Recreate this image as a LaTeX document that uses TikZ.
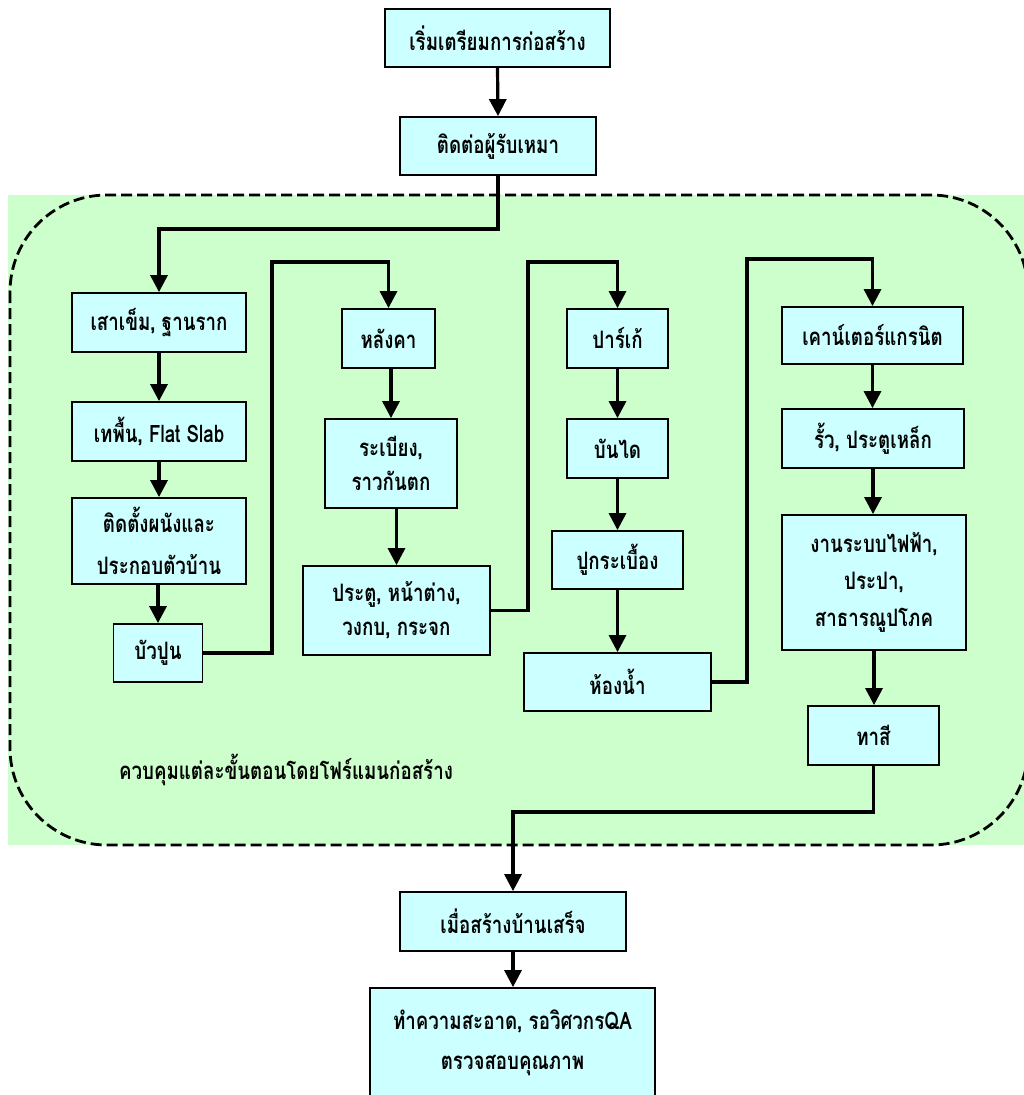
\documentclass[tikz,border=0pt]{standalone}
\usepackage{fontspec}
\newfontfamily\thaifont[Script=Thai, FakeStretch=0.78]{Loma}
\usetikzlibrary{arrows.meta,calc}
\definecolor{zone}{RGB}{204,255,204}
\definecolor{boxc}{RGB}{204,255,255}
\tikzset{
  txt/.style={font=\thaifont\bfseries\fontsize{24}{34}\selectfont},
  box/.style={draw=black, line width=1.8pt, fill=boxc, inner sep=0pt, align=center, txt},
  flow/.style={line width=3.2pt, -{Triangle[width=17pt,length=17pt]}},
}
\begin{document}
\begin{tikzpicture}[x=1pt,y=-1pt]
\useasboundingbox (0,0) rectangle (1024,1095);
\clip (0,0) rectangle (1024,1095);
% zone
\fill[zone] (8,195) rectangle (1024,845);
\draw[dash pattern=on 11pt off 5pt, line width=2.8pt, rounded corners=97pt] (10,195) rectangle (1028,845);
\node[txt] (note) at (286,770) {ควบคุมแต่ละขั้นตอนโดยโฟร์แมนก่อสร้าง};
% top
\node[box, minimum width=225pt, minimum height=58pt] (b1) at (497.5,38) {เริ่มเตรียมการก่อสร้าง};
\node[box, minimum width=196pt, minimum height=58pt] (b2) at (498,146) {ติดต่อผู้รับเหมา};
% column 1
\node[box, minimum width=174pt, minimum height=59pt] (a1) at (159,322.5) {เสาเข็ม, ฐานราก};
\node[box, minimum width=174pt, minimum height=59pt] (a2) at (159,431.5) {เทพื้น, Flat Slab};
\node[box, minimum width=174pt, minimum height=86pt, font=\thaifont\bfseries\fontsize{24}{42}\selectfont] (a3) at (159,541) {ติดตั้งผนังและ\\ประกอบตัวบ้าน};
\node[box, minimum width=89pt, minimum height=58pt] (a4) at (158,653) {บัวปูน};
% column 2
\node[box, minimum width=93pt, minimum height=59pt] (c1) at (388.5,338.5) {หลังคา};
\node[box, minimum width=132pt, minimum height=89pt] (c2) at (391,463.5) {ระเบียง,\\ราวกันตก};
\node[box, minimum width=187pt, minimum height=89pt] (c3) at (396.5,610.5) {ประตู, หน้าต่าง,\\วงกบ, กระจก};
% column 3
\node[box, minimum width=101pt, minimum height=59pt] (d1) at (617.5,338.5) {ปาร์เก้};
\node[box, minimum width=101pt, minimum height=59pt] (d2) at (617.5,448.5) {บันได};
\node[box, minimum width=131pt, minimum height=58pt] (d3) at (617.5,560) {ปูกระเบื้อง};
\node[box, minimum width=187pt, minimum height=58pt] (d4) at (617.5,682) {ห้องน้ำ};
% column 4
\node[box, minimum width=181pt, minimum height=57pt] (e1) at (872.5,335.5) {เคาน์เตอร์แกรนิต};
\node[box, minimum width=182pt, minimum height=59pt] (e2) at (873,438.5) {รั้ว, ประตูเหล็ก};
\node[box, minimum width=184pt, minimum height=135pt, font=\thaifont\bfseries\fontsize{24}{37}\selectfont] (e3) at (874,582.5) {งานระบบไฟฟ้า,\\ประปา,\\สาธารณูปโภค};
\node[box, minimum width=131pt, minimum height=59pt] (e4) at (873.5,735.5) {ทาสี};
% bottom
\node[box, minimum width=226pt, minimum height=59pt] (f1) at (513,921.5) {เมื่อสร้างบ้านเสร็จ};
\node[box, minimum width=285pt, minimum height=122pt, font=\thaifont\bfseries\fontsize{24}{40}\selectfont] (f2) at (512.5,1049) {ทำความสะอาด, รอวิศวกรQA\\ตรวจสอบคุณภาพ\rule[-18pt]{0pt}{18pt}};
% connectors
\draw[flow] (b1.south) -- (b2.north);
\draw[flow] (b2.south) -- ++(0,53) -| (a1.north);
\draw[flow] (a1.south) -- (a2.north);
\draw[flow] (a2.south) -- (a2.south |- a3.north);
\draw[flow] (a3.south -| a4.north) -- (a4.north);
\draw[flow] (a4.east) -| (272,262) -| (c1.north);
\draw[flow] (c2.north |- c1.south) -- (c2.north);
\draw[flow] (c3.north |- c2.south) -- (c3.north);
\draw[flow] (c3.east) -| (528,262) -| (d1.north);
\draw[flow] (d1.south) -- (d2.north);
\draw[flow] (d2.south) -- (d3.north);
\draw[flow] (d3.south) -- (d4.north);
\draw[flow] (d4.east) -| (747,259) -| (e1.north);
\draw[flow] (e1.south) -- (e1.south |- e2.north);
\draw[flow] (e2.south) -- (e2.south |- e3.north);
\draw[flow] (e3.south) -- (e3.south |- e4.north);
\draw[flow] (e4.south) -- ++(0,46) -| (f1.north);
\draw[flow] (f1.south) -- (f1.south |- f2.north);
\end{tikzpicture}
\end{document}
